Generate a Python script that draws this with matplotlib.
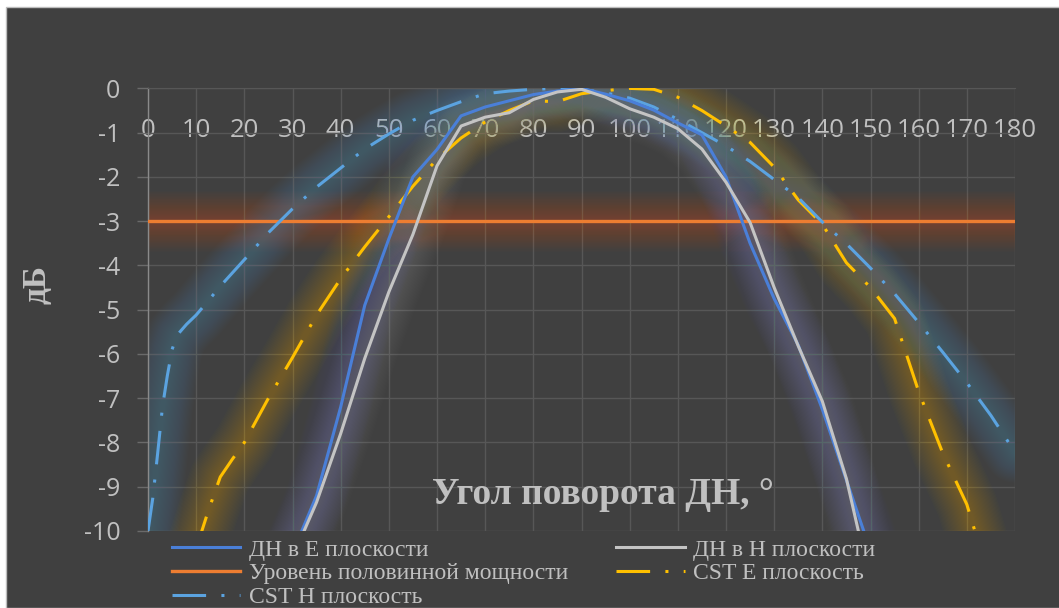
import numpy as np
import matplotlib.pyplot as plt
from matplotlib.patches import Rectangle

plt.rcParams['axes.unicode_minus'] = False

# Measured patterns (dB) vs rotation angle (deg)
e_angles = [30, 35, 40, 45, 50, 55, 60, 65, 70, 75, 80, 85, 90,
            95, 100, 105, 110, 115, 120, 125, 130, 135, 140, 145, 150]
e_values = [-10.5, -9.2, -7.2, -4.9, -3.4, -2.0, -1.38, -0.62, -0.42, -0.28, -0.14, -0.06, 0.0,
            -0.13, -0.28, -0.49, -0.78, -1.05, -2.0, -3.5, -4.75, -5.8, -7.25, -8.85, -10.45]

h_angles = [30, 35, 40, 45, 50, 55, 60, 65, 70, 75, 80, 85, 90,
            95, 100, 105, 110, 115, 120, 125, 130, 135, 140, 145, 150]
h_values = [-10.6, -9.35, -7.8, -6.1, -4.6, -3.3, -1.75, -0.85, -0.65, -0.55, -0.25, -0.08, -0.02,
            -0.2, -0.46, -0.65, -0.91, -1.37, -2.12, -3.03, -4.5, -5.82, -7.07, -8.82, -11.2]

# Half-power level
half_angles = [0, 180]
half_values = [-3, -3]

# CST simulation, E plane
cst_e_angles = [10, 12.5, 15, 17.5, 20, 25, 30, 35, 40, 45, 50, 55, 60, 65, 70, 75, 80, 85,
                90, 95, 100, 105, 110, 115, 120, 125, 130, 135, 140, 145, 150, 155, 160,
                165, 170, 175]
cst_e_values = [-10.4, -9.55, -8.78, -8.38, -8.0, -7.0, -6.08, -5.12, -4.3, -3.58, -2.9, -2.21,
                -1.6, -1.12, -0.76, -0.5, -0.28, -0.3, -0.12, -0.05, 0.0, -0.02, -0.2, -0.5,
                -0.85, -1.22, -1.78, -2.52, -3.07, -3.94, -4.5, -5.2, -6.85, -8.24, -9.4, -11.2]

# CST simulation, H plane
cst_h_angles = [0, 1, 2, 3, 4, 5, 6, 8, 10, 12.5, 15, 20, 25, 30, 35, 40, 45, 50, 55, 60, 65,
                70, 75, 80, 85, 90, 95, 100, 105, 110, 115, 120, 125, 130, 135, 140, 145,
                150, 155, 160, 165, 170, 175, 180]
cst_h_values = [-10.0, -9.25, -8.25, -7.2, -6.5, -5.9, -5.58, -5.33, -5.12, -4.8, -4.47, -3.87,
                -3.26, -2.72, -2.23, -1.8, -1.37, -1.03, -0.72, -0.5, -0.3, -0.12, -0.06,
                -0.02, 0.0, -0.02, -0.1, -0.22, -0.42, -0.7, -1.0, -1.3, -1.65, -2.06,
                -2.47, -3.02, -3.51, -4.06, -4.64, -5.29, -5.96, -6.65, -7.39, -8.22]

x_ticks = list(range(0, 181, 10))
y_ticks = list(range(-10, 1))

bg = '#404040'
txt = '#c0c0c0'
grid_c = '#575757'

fig = plt.figure(figsize=(10.59, 6.08), dpi=100)
fig.patch.set_facecolor('white')
fig.add_artist(Rectangle((6 / 1059, 0), 1, (608 - 7) / 608, transform=fig.transFigure,
                         facecolor=bg, edgecolor='#bdbdbd', linewidth=1.0, zorder=-10))

ax = fig.add_axes([148 / 1059, 77 / 608, 867 / 1059, 442.6 / 608])
ax.set_facecolor(bg)
ax.patch.set_alpha(0)


def glow(x, y, color):
    # soft halo: stacked wide translucent strokes
    for w in np.linspace(44, 4, 24):
        ax.plot(x, y, color=color, lw=w, alpha=0.014, solid_capstyle='round',
                solid_joinstyle='round', zorder=1)


glow(half_angles, half_values, '#ED7D31')
glow(cst_e_angles, cst_e_values, '#FFC000')
glow(cst_h_angles, cst_h_values, '#5B9BD5')
glow(e_angles, e_values, '#4472C4')
glow(h_angles, h_values, '#A5A5A5')

dash = (0, (11, 5, 1, 5))
l_e, = ax.plot(e_angles, e_values, color='#4a7fd8', lw=2.2, zorder=4, label='ДН в E плоскости')
l_h, = ax.plot(h_angles, h_values, color='#c4c4c4', lw=2.2, zorder=4, label='ДН в H плоскости')
l_half, = ax.plot(half_angles, half_values, color='#ED7D31', lw=2.4, zorder=3,
                  label='Уровень половинной мощности')
l_ce, = ax.plot(cst_e_angles, cst_e_values, color='#FFC000', lw=2.2, ls=dash, zorder=3,
                label='CST E плоскость')
l_ch, = ax.plot(cst_h_angles, cst_h_values, color='#5BA3E0', lw=2.2, ls=dash, zorder=3,
                label='CST H плоскость')

ax.set_xlim(0, 180)
ax.set_ylim(-10, 0)
ax.set_xticks(x_ticks)
ax.set_yticks(y_ticks)
ax.grid(True, color=grid_c, lw=1.0, zorder=0)
ax.set_axisbelow(True)

for side in ('top', 'right'):
    ax.spines[side].set_visible(False)
ax.spines['bottom'].set_position(('data', 0))
ax.spines['bottom'].set_color(grid_c)
ax.spines['left'].set_color('#8a8a8a')
ax.spines['left'].set_linewidth(1.0)

ax.tick_params(axis='x', length=0, pad=21, labelsize=18.5, labelcolor=txt)
ax.tick_params(axis='y', length=8, width=1.0, color='#6a6a6a', pad=12, labelsize=18,
               labelcolor=txt)
for lab in ax.get_xticklabels() + ax.get_yticklabels():
    lab.set_family('Open Sans')

fig.text(37 / 1059, 1 - 285 / 608, 'дБ', rotation=90, ha='center', va='center',
         family='Liberation Serif', fontweight='bold', fontsize=24, color=txt)
fig.text(603 / 1059, 1 - 495 / 608, 'Угол поворота ДН, °', ha='center', va='center',
         family='Liberation Serif', fontweight='bold', fontsize=27, color=txt)

fig.legend(handles=[l_e, l_half, l_ch, l_h, l_ce], loc='upper left',
           bbox_to_anchor=(172 / 1059, 1 - 539 / 608), ncol=2, frameon=False,
           prop={'family': 'Liberation Serif', 'size': 17}, labelcolor=txt,
           handlelength=2.9, handletextpad=0.35, columnspacing=2.05,
           labelspacing=0.1, borderpad=0, borderaxespad=0)

fig.savefig('out.png', dpi=100, facecolor=fig.get_facecolor())
